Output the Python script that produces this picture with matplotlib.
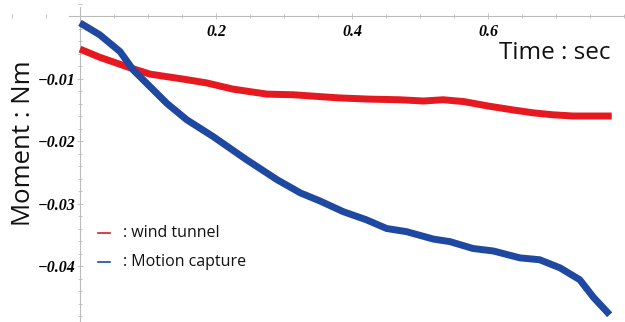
import matplotlib
matplotlib.use("Agg")
import matplotlib.pyplot as plt
from matplotlib.ticker import MultipleLocator, FuncFormatter

# Data
t_wind = [0.0, 0.029, 0.074, 0.103, 0.152, 0.186, 0.225, 0.275, 0.314, 0.353,
          0.38, 0.426, 0.47, 0.505, 0.534, 0.565, 0.6, 0.635, 0.667, 0.695, 0.725, 0.755, 0.782]
m_wind = [-0.0053, -0.0066, -0.0083, -0.0093, -0.0101, -0.0107, -0.0117, -0.0125, -0.0126, -0.0129,
          -0.0131, -0.0133, -0.0134, -0.0136, -0.0134, -0.0137, -0.0144, -0.0150, -0.0155, -0.0158, -0.0160, -0.0160, -0.0160]

t_mocap = [0.0, 0.029, 0.059, 0.078, 0.103, 0.128, 0.157, 0.196, 0.245, 0.29, 0.324, 0.353,
           0.387, 0.421, 0.451, 0.48, 0.52, 0.544, 0.578, 0.608, 0.647, 0.676, 0.706, 0.735, 0.755, 0.779]
m_mocap = [-0.0011, -0.0030, -0.0057, -0.0086, -0.0113, -0.0140, -0.0166, -0.0193, -0.0230, -0.0262, -0.0283, -0.0296,
           -0.0313, -0.0326, -0.0340, -0.0345, -0.0357, -0.0361, -0.0372, -0.0376, -0.0387, -0.0390, -0.0403, -0.0422, -0.0450, -0.0478]

series_names = [": wind tunnel", ": Motion capture"]
x_ticks = [0.2, 0.4, 0.6]
y_ticks = [-0.01, -0.02, -0.03, -0.04]

red = "#e5191f"
blue = "#1f48a0"

fig = plt.figure(figsize=(6.25, 3.22), dpi=100)
ax = fig.add_axes([0, 0, 1, 1])
ax.set_xlim(-0.1176, 0.8015)
ax.set_ylim(-0.04896, 0.00256)

ax.plot(t_wind, m_wind, color=red, lw=5.0, solid_capstyle="butt",
        solid_joinstyle="round", zorder=3)
ax.plot(t_mocap, m_mocap, color=blue, lw=5.0, solid_capstyle="butt",
        solid_joinstyle="round", zorder=3)

for s in ["top", "right"]:
    ax.spines[s].set_visible(False)
ax.spines["left"].set_position(("data", 0))
ax.spines["bottom"].set_position(("data", 0))
ax.spines["left"].set_bounds(-0.049, 0.0014)
ax.spines["bottom"].set_bounds(-0.016, 0.8)
for s in ["left", "bottom"]:
    ax.spines[s].set_color("#bbbbbb")
    ax.spines[s].set_linewidth(0.8)

ax.set_xticks(x_ticks)
ax.set_yticks(y_ticks)
ax.xaxis.set_minor_locator(MultipleLocator(0.05))
ax.yaxis.set_minor_locator(MultipleLocator(0.002))
ax.tick_params(which="both", direction="inout", color="#bbbbbb", width=0.6)
ax.tick_params(which="major", length=4)
ax.tick_params(which="minor", length=2.5)
ax.tick_params(axis="x", pad=4)
ax.tick_params(axis="y", pad=1)

def lab(v, p):
    s = f"{abs(v):g}"
    return ("\u2212" if v < 0 else "") + s
ax.xaxis.set_major_formatter(FuncFormatter(lab))
ax.yaxis.set_major_formatter(FuncFormatter(lab))
for lbl in ax.get_xticklabels() + ax.get_yticklabels():
    lbl.set_fontfamily("Liberation Serif")
    lbl.set_fontweight("bold")
    lbl.set_fontstyle("italic")
    lbl.set_fontsize(11.5)

fig.text(0.977, 0.835, "Time : sec", ha="right", va="center", fontsize=17.5,
         family="Open Sans", color="#111111")
fig.text(0.037, 0.555, "Moment : Nm", ha="center", va="center", rotation=90,
         fontsize=18.5, family="Open Sans", color="#111111")

# legend
colors = [red, blue]
ys = [-(233 - 16) / 6250, -(262 - 16) / 6250]
for name, c, yv in zip(series_names, colors, ys):
    ax.plot([0.0265, 0.0441], [yv, yv], color=c, lw=1.2)
    ax.text(0.064, yv, name, ha="left", va="center", fontsize=11.5,
            family="Open Sans", color="#111111")

fig.savefig("out.png", dpi=100)
